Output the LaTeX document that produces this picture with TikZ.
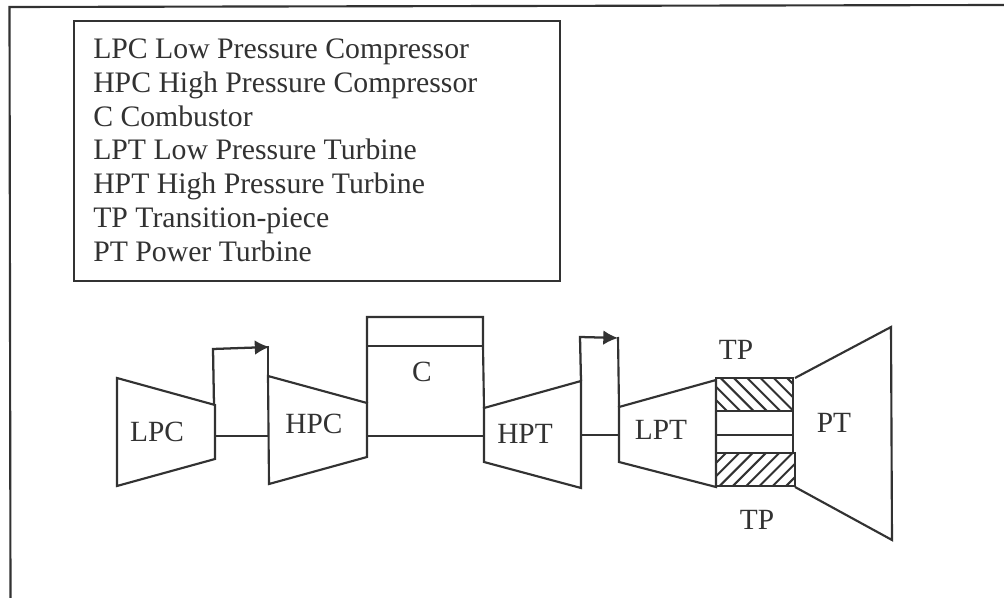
\documentclass[tikz,border=0pt]{standalone}
\usepackage{fontspec}
\setmainfont{Liberation Serif}
\usetikzlibrary{arrows.meta}
\definecolor{ink}{RGB}{50,50,50}
\tikzset{
  x=0.75pt,y=-0.75pt,
  part/.style={draw=ink,line width=1.6pt,line join=miter},
  conn/.style={draw=ink,line width=1.5pt},
  flow/.style={draw=ink,line width=1.7pt,-{Latex[length=11pt,width=11pt]}},
  lbl/.style={font=\fontsize{22}{26}\selectfont,text=ink,inner sep=0pt},
  legend/.style={font=\fontsize{22.3}{25.35}\selectfont,text=ink,align=left,anchor=north west,inner sep=0pt},
  hatchbox/.style={draw=ink,line width=1.7pt},
  hatchline/.style={draw=ink,line width=1.5pt}
}
\begin{document}
\begin{tikzpicture}
\useasboundingbox (0,0) rectangle (1004,598);
\fill[white] (0,0) rectangle (1004,598);
% outer frame
\coordinate (ftl) at (9.5,7); \coordinate (ftr) at (1004,5);
\coordinate (fbl) at (10.5,598);
\draw[part] (fbl) -- (ftl) -- (ftr);
% legend
\coordinate (la) at (74,21); \coordinate (lb) at (560,281);
\draw[part] (la) rectangle (lb);
\node[legend] (legendtext) at (93,38.5) {LPC Low Pressure Compressor\\HPC High Pressure Compressor\\C Combustor\\LPT Low Pressure Turbine\\HPT High Pressure Turbine\\TP Transition-piece\\PT Power Turbine};
% LPC
\coordinate (lpc1) at (117,378); \coordinate (lpc2) at (215,405); \coordinate (lpc3) at (215,459); \coordinate (lpc4) at (117,486);
\draw[part] (lpc1) -- (lpc2) -- (lpc3) -- (lpc4) -- cycle;
% HPC
\coordinate (hpc1) at (268,376); \coordinate (hpc2) at (367,403); \coordinate (hpc3) at (367,457); \coordinate (hpc4) at (269,484);
\draw[part] (hpc1) -- (hpc2) -- (hpc3) -- (hpc4) -- cycle;
% Combustor
\coordinate (c1) at (367,317); \coordinate (c2) at (483,317); \coordinate (c3) at (367,346); \coordinate (c4) at (483,346);
\draw[part] (hpc2) -- (c3) -- (c1) -- (c2) -- (c4) -- (484,408);
\draw[conn] (c3) -- (c4);
% HPT
\coordinate (hpt1) at (484,408); \coordinate (hpt2) at (581,381); \coordinate (hpt3) at (581,488); \coordinate (hpt4) at (484,462);
\draw[part] (hpt1) -- (hpt2) -- (hpt3) -- (hpt4) -- cycle;
% LPT
\coordinate (lpt1) at (619,407); \coordinate (lpt2) at (716,380); \coordinate (lpt3) at (716,487); \coordinate (lpt4) at (619,462);
\draw[part] (lpt1) -- (lpt2) -- (lpt3) -- (lpt4) -- cycle;
% shafts
\draw[conn] (215,436) -- (268,436);
\draw[conn] (367,436) -- (484,436);
\draw[conn] (581,435) -- (619,435);
\draw[conn] (716,435) -- (793,435);
% transition pieces
\begin{scope}
\clip (716,378) rectangle (793,411);
\foreach \k in {0,...,8}{\draw[hatchline] ({690+13.3*\k},374) -- ({690+13.3*\k+40},414);}
\end{scope}
\draw[hatchbox] (716,378) rectangle (793,411);
\begin{scope}
\clip (716,453) rectangle (795,486);
\foreach \k in {0,...,8}{\draw[hatchline] ({690+13.3*\k},489) -- ({690+13.3*\k+40},449);}
\end{scope}
\draw[hatchbox] (716,453) rectangle (795,486);
\draw[part] (793,411) -- (793,453);
% PT
\coordinate (pt1) at (795,378); \coordinate (pt2) at (891,327); \coordinate (pt3) at (892,540); \coordinate (pt4) at (795,487);
\draw[part] (pt1) -- (pt2) -- (pt3) -- (pt4);
% flows
\coordinate (f1a) at (214,405); \coordinate (f1b) at (213,349); \coordinate (f1c) at (269.5,347);
\draw[flow] (f1a) -- (f1b) -- (f1c);
\draw[part] (268,346) -- (hpc1);
\coordinate (f2a) at (581,381); \coordinate (f2b) at (580,337); \coordinate (f2c) at (618,338);
\draw[flow] (f2a) -- (f2b) -- (f2c);
\draw[part] (618,337) -- (lpt1);
% labels
\node[lbl] (lLPC) at (157,432) {LPC};
\node[lbl] (lHPC) at (314,424) {HPC};
\node[lbl] (lC) at (422,372) {C};
\node[lbl] (lHPT) at (525,434) {HPT};
\node[lbl] (lLPT) at (661,430) {LPT};
\node[lbl] (lTPa) at (736,350) {TP};
\node[lbl] (lPT) at (834,423) {PT};
\node[lbl] (lTPb) at (757,520) {TP};
\end{tikzpicture}
\end{document}
